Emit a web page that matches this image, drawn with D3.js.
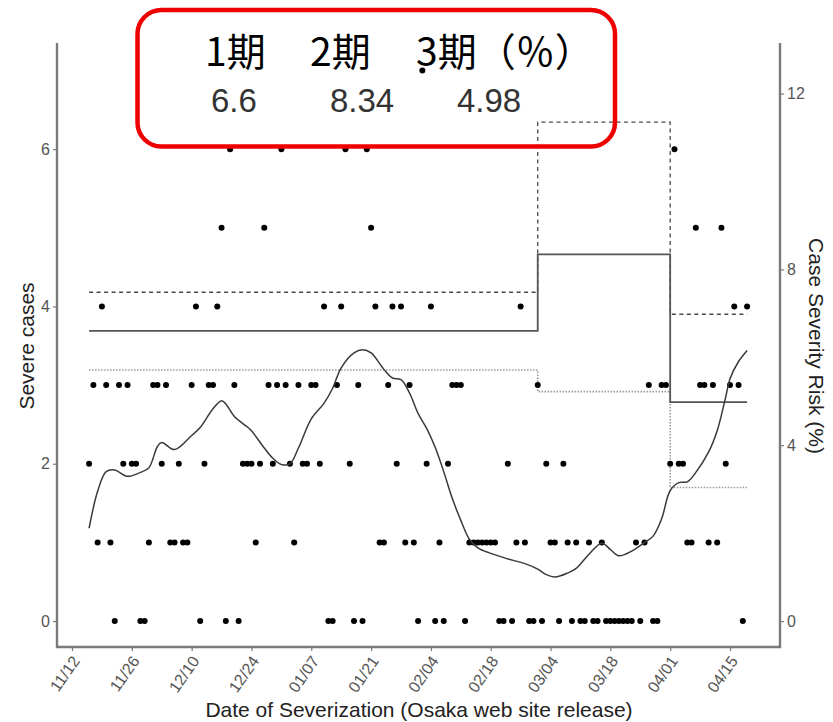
<!DOCTYPE html>
<html><head><meta charset="utf-8">
<script src="https://cdn.jsdelivr.net/npm/d3@7"></script>
<style>body{margin:0;background:#fff} svg{display:block}</style>
</head><body>
<svg id="c" width="833" height="722"></svg>
<script>
// ---------------- data ----------------
const firstDate = "2020-11-16";          // first day of the daily series
const dailySevere = [
  2,3,1,4,3,1,0,3,2,3,
  2,2,0,0,1,3,3,2,3,1,
  1,2,1,1,3,4,0,2,3,3,
  4,5,0,6,3,0,2,2,2,1,
  2,5,3,2,3,6,3,2,1,3,
  2,2,3,3,2,4,0,0,3,4,
  6,2,0,3,0,6,5,4,1,1,
  3,4,2,4,1,3,1,0,7,2,
  4,0,1,0,2,3,3,3,0,1,
  1,1,1,1,1,1,0,0,2,0,
  1,4,1,0,0,3,0,2,1,1,
  0,2,1,0,1,0,0,1,0,0,
  1,0,0,0,0,0,0,0,1,0,
  1,3,0,0,3,3,2,6,2,2,
  1,1,5,3,3,1,3,1,5,2,
  3,4,3,0,4
];
const smoothDates = ["2020-11-16","2020-11-18","2020-11-20","2020-11-22","2020-11-25","2020-11-28","2020-11-30",
  "2020-12-02","2020-12-03","2020-12-06","2020-12-10","2020-12-12","2020-12-15","2020-12-17","2020-12-18",
  "2020-12-20","2020-12-23","2020-12-24","2020-12-27","2020-12-29","2020-12-31","2021-01-02","2021-01-04",
  "2021-01-07","2021-01-10","2021-01-12","2021-01-14","2021-01-17","2021-01-19","2021-01-21","2021-01-24",
  "2021-01-26","2021-01-28","2021-01-30","2021-02-01","2021-02-03","2021-02-05","2021-02-07","2021-02-09",
  "2021-02-11","2021-02-13","2021-02-15","2021-02-18","2021-02-22","2021-02-26","2021-03-01","2021-03-03",
  "2021-03-05","2021-03-08","2021-03-10","2021-03-13","2021-03-16","2021-03-18","2021-03-20","2021-03-23",
  "2021-03-26","2021-03-28","2021-03-30","2021-04-01","2021-04-03","2021-04-05","2021-04-07","2021-04-10",
  "2021-04-12","2021-04-14","2021-04-15","2021-04-17","2021-04-19"];
const smoothValues = [1.18,1.65,1.90,1.92,1.84,1.89,1.95,
  2.22,2.27,2.18,2.36,2.46,2.70,2.80,2.76,
  2.60,2.47,2.42,2.20,2.07,1.99,2.00,2.20,
  2.57,2.77,2.96,3.22,3.41,3.45,3.41,3.20,
  3.09,3.07,2.90,2.64,2.45,2.21,1.90,1.56,
  1.28,1.04,0.93,0.86,0.79,0.73,0.66,0.59,
  0.56,0.61,0.67,0.85,0.99,0.91,0.83,0.89,
  1.00,1.08,1.30,1.66,1.76,1.77,1.89,2.15,
  2.42,2.85,3.08,3.30,3.44];
const periodStarts = ["2020-11-16","2021-03-01","2021-04-01"];
const periodEnd = "2021-04-19";
const riskEstimate = [6.6, 8.34, 4.98];
const riskUpper = [7.48, 11.35, 6.98];
const riskLower = [5.71, 5.22, 3.04];
const xTickDates = ["2020-11-12","2020-11-26","2020-12-10","2020-12-24","2021-01-07","2021-01-21",
  "2021-02-04","2021-02-18","2021-03-04","2021-03-18","2021-04-01","2021-04-15"];
const xTickLabels = ["11/12","11/26","12/10","12/24","01/07","01/21","02/04","02/18","03/04","03/18","04/01","04/15"];
const leftTicks = [0,2,4,6];
const rightTicks = [0,4,8,12];
const periodNames = ["1期","2期","3期（％）"];
const periodValueText = ["6.6","8.34","4.98"];

// ---------------- drawing ----------------
const P = s => { const [y,m,d] = s.split("-").map(Number); return new Date(Date.UTC(y,m-1,d)); };
const svg = d3.select("#c");
const L = 57, R = 780, T = 43, B = 647;
const x = d3.scaleUtc().domain([P("2020-11-12"), P("2021-04-15")]).range([72, 730]);
const yL = d3.scaleLinear().domain([-0.33, 7.35]).range([B, T]);
const yR = d3.scaleLinear().domain([-0.59, 13.15]).range([B, T]);
const axisCol = "#7a7a7a", tickTextCol = "#555";
const FONT = "'Liberation Sans', Arial, Helvetica, sans-serif";

// step lines (right axis)
function stepData(vals){
  const pts = periodStarts.map((d,i)=>({d:P(d), v:vals[i]}));
  pts.push({d:P(periodEnd), v:vals[vals.length-1]});
  return pts;
}
const stepLine = d3.line().x(p=>x(p.d)).y(p=>yR(p.v)).curve(d3.curveStepAfter);
svg.append("path").attr("d", stepLine(stepData(riskLower)))
  .attr("fill","none").attr("stroke","#9a9a9a").attr("stroke-width",1.6).attr("stroke-dasharray","1.5,1.5");
svg.append("path").attr("d", stepLine(stepData(riskUpper)))
  .attr("fill","none").attr("stroke","#4a4a4a").attr("stroke-width",1.3).attr("stroke-dasharray","4,3.5");
svg.append("path").attr("d", stepLine(stepData(riskEstimate)))
  .attr("fill","none").attr("stroke","#555").attr("stroke-width",1.8);

// points
const t0 = P(firstDate);
const pts = dailySevere.map((v,i)=>({d:d3.utcDay.offset(t0,i), v}));
svg.append("g").selectAll("circle").data(pts).join("circle")
  .attr("cx",p=>x(p.d)).attr("cy",p=>yL(p.v)).attr("r",3).attr("fill","#000");

// smooth curve (left axis)
const sm = smoothDates.map((d,i)=>({d:P(d), v:smoothValues[i]}));
svg.append("path").attr("d", d3.line().x(p=>x(p.d)).y(p=>yL(p.v)).curve(d3.curveCatmullRom.alpha(0.5))(sm))
  .attr("fill","none").attr("stroke","#3a3a3a").attr("stroke-width",1.5);

// axes lines
svg.append("line").attr("x1",L).attr("x2",L).attr("y1",T).attr("y2",B+1).attr("stroke",axisCol).attr("stroke-width",2.4);
svg.append("line").attr("x1",R).attr("x2",R).attr("y1",T).attr("y2",B+1).attr("stroke",axisCol).attr("stroke-width",2.4);
svg.append("line").attr("x1",L-1).attr("x2",R+1).attr("y1",B).attr("y2",B).attr("stroke",axisCol).attr("stroke-width",2.4);

// left axis
const gl = svg.append("g").attr("transform",`translate(${L},0)`)
  .call(d3.axisLeft(yL).tickValues(leftTicks).tickSize(4).tickPadding(3));
// right axis
const gr = svg.append("g").attr("transform",`translate(${R},0)`)
  .call(d3.axisRight(yR).tickValues(rightTicks).tickSize(4).tickPadding(3));
// bottom axis
const gb = svg.append("g").attr("transform",`translate(0,${B})`)
  .call(d3.axisBottom(x).tickValues(xTickDates.map(P)).tickFormat((d,i)=>xTickLabels[i]).tickSize(4));
[gl,gr,gb].forEach(g=>{
  g.select(".domain").remove();
  g.selectAll(".tick line").attr("stroke",axisCol).attr("stroke-width",1.2);
  g.selectAll("text").attr("fill",tickTextCol).style("font-family",FONT).style("font-size","16px");
});
gb.selectAll("text").attr("text-anchor","end").attr("dy",null).attr("y",null)
  .attr("transform","translate(8,14) rotate(-55)");

// axis titles
svg.append("text").attr("x",419).attr("y",717).attr("text-anchor","middle")
  .style("font-family",FONT).style("font-size","21px").attr("fill","#222")
  .text("Date of Severization (Osaka web site release)");
svg.append("text").attr("transform","translate(34,346) rotate(-90)").attr("text-anchor","middle")
  .style("font-family",FONT).style("font-size","21px").attr("fill","#222").text("Severe cases");
svg.append("text").attr("transform","translate(809,346) rotate(90)").attr("text-anchor","middle")
  .style("font-family",FONT).style("font-size","21px").attr("fill","#222").text("Case Severity Risk (%)");

// annotation box
svg.append("rect").attr("x",137.5).attr("y",10).attr("width",477.5).attr("height",136.5)
  .attr("rx",24).attr("ry",24).attr("fill","none").attr("stroke","#ee0000").attr("stroke-width",4.5);
const nameX = [205, 310, 416];
const valX = [211, 330, 457];
svg.append("g").selectAll("text").data(periodNames).join("text")
  .attr("x",(d,i)=>nameX[i]).attr("y",66)
  .style("font-family","'Noto Sans CJK JP', sans-serif").style("font-size","39px").attr("fill","#000")
  .text(d=>d);
svg.append("g").selectAll("text").data(periodValueText).join("text")
  .attr("x",(d,i)=>valX[i]).attr("y",112)
  .style("font-family",FONT).style("font-size","33px").attr("fill","#333")
  .text(d=>d);
</script>
</body></html>
